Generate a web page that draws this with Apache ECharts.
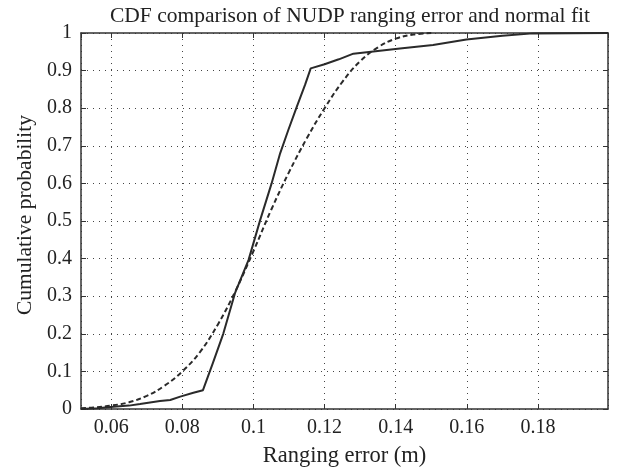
<!DOCTYPE html>
<html>
<head>
<meta charset="utf-8">
<script src="https://cdn.jsdelivr.net/npm/echarts@6/dist/echarts.min.js"></script>
<style>
  html, body { margin: 0; padding: 0; background: #fff; }
  #chart { width: 617px; height: 470px; }
</style>
</head>
<body>
<div id="chart"></div>
<script>
// empirical CDF of NUDP ranging error (x in m, cumulative probability)
const empiricalX = [0.0515, 0.056, 0.0606, 0.065, 0.0681, 0.0737, 0.0766, 0.0794, 0.0831, 0.0858,
  0.0885, 0.0915, 0.0948, 0.0986, 0.1019, 0.1051, 0.1075, 0.1098, 0.1122, 0.1145, 0.1161,
  0.12, 0.124, 0.1281, 0.1412, 0.1505, 0.1599, 0.17, 0.1786, 0.1997];
const empiricalP = [0, 0.002, 0.006, 0.009, 0.013, 0.021, 0.024, 0.033, 0.043, 0.05,
  0.12, 0.2, 0.308, 0.396, 0.503, 0.6, 0.68, 0.742, 0.804, 0.862, 0.906,
  0.917, 0.93, 0.945, 0.959, 0.968, 0.983, 0.993, 0.999, 1.0];

// normal fit CDF
const fitX = [0.0515, 0.055, 0.06, 0.065, 0.07, 0.075, 0.08, 0.085, 0.09, 0.095, 0.1,
  0.105, 0.11, 0.115, 0.12, 0.125, 0.13, 0.135, 0.14, 0.145, 0.15];
const fitP = [0.002, 0.004, 0.009, 0.018, 0.035, 0.062, 0.1, 0.152, 0.225, 0.315, 0.42,
  0.53, 0.63, 0.72, 0.8, 0.87, 0.925, 0.962, 0.985, 0.996, 1.0];

const xMin = 0.0515, xMax = 0.1997;

const fontFamily = '"Liberation Serif", "DejaVu Serif", serif';
const textColor = '#222';
const lineColor = '#2a2a2a';

const chart = echarts.init(document.getElementById('chart'));

const gridLine = { show: true, lineStyle: { color: '#444', width: 1, type: [1, 5] } };
const boxLine = { show: true, onZero: false, lineStyle: { color: '#333', width: 1.5 } };
const tickIn = { show: true, inside: true, length: 5, lineStyle: { color: '#333', width: 1 } };

chart.setOption({
  animation: false,
  title: {
    text: 'CDF comparison of NUDP ranging error and normal fit',
    left: 345, top: 0, textAlign: 'center',
    textStyle: { fontFamily, fontSize: 21.5, fontWeight: 'normal', color: textColor }
  },
  grid: { left: 81, right: 9, top: 33, bottom: 61, outerBoundsMode: 'none', containLabel: false },
  xAxis: [{
    type: 'value', min: xMin, max: xMax, minInterval: 0.02, maxInterval: 0.02,
    name: 'Ranging error (m)', nameLocation: 'middle', nameGap: 36,
    nameTextStyle: { fontFamily, fontSize: 22.5, color: textColor, verticalAlign: 'top' },
    axisLine: boxLine, axisTick: tickIn, splitLine: gridLine,
    axisLabel: {
      fontFamily, fontSize: 20, color: textColor, margin: 9,
      showMinLabel: false, showMaxLabel: false,
      formatter: v => +v.toFixed(2) + ''
    }
  }, {
    type: 'value', position: 'top', min: xMin, max: xMax, minInterval: 0.02, maxInterval: 0.02,
    axisLine: boxLine, axisTick: tickIn, splitLine: { show: false }, axisLabel: { show: false }
  }],
  yAxis: [{
    type: 'value', min: 0, max: 1, interval: 0.1,
    name: 'Cumulative probability', nameLocation: 'middle', nameGap: 43,
    nameTextStyle: { fontFamily, fontSize: 21.5, color: textColor, padding: [0, 0, 0, 12] },
    axisLine: boxLine, axisTick: tickIn, splitLine: gridLine,
    axisLabel: {
      fontFamily, fontSize: 20, color: textColor, margin: 9,
      formatter: v => +v.toFixed(1) + ''
    }
  }, {
    type: 'value', position: 'right', min: 0, max: 1, interval: 0.1,
    axisLine: boxLine, axisTick: tickIn, splitLine: { show: false }, axisLabel: { show: false }
  }],
  series: [{
    name: 'Empirical CDF', type: 'line', symbol: 'none',
    data: empiricalX.map((x, i) => [x, empiricalP[i]]),
    lineStyle: { color: lineColor, width: 2 }
  }, {
    name: 'Normal fit', type: 'line', symbol: 'none', smooth: 0.4,
    data: fitX.map((x, i) => [x, fitP[i]]),
    lineStyle: { color: lineColor, width: 2, type: [5, 3] }
  }]
});
</script>
</body>
</html>
